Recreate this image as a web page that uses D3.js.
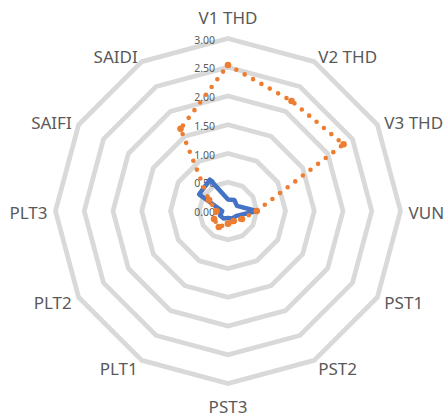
<!DOCTYPE html>
<html><head><meta charset="utf-8">
<script src="https://cdn.jsdelivr.net/npm/d3@7"></script>
<style>html,body{margin:0;padding:0;background:#fff;} svg{display:block;}</style>
</head><body>
<svg id="chart" width="446" height="417"></svg>
<script>
const categories = ["V1 THD","V2 THD","V3 THD","VUN","PST1","PST2","PST3","PLT1","PLT2","PLT3","SAIFI","SAIDI"];
const seriesBlue = [0.20,0.22,0.18,0.50,0.17,0.15,0.12,0.15,0.16,0.10,0.58,0.63];
const seriesOrange = [2.54,2.21,2.32,0.50,0.28,0.20,0.22,0.32,0.28,0.20,0.38,1.65];
const tickValues = [0,0.5,1,1.5,2,2.5,3];
const tickLabels = ["0.00","0.50","1.00","1.50","2.00","2.50","3.00"];

const W = 446, H = 417, cx = 228, cy = 211, R = 172.5;
const svg = d3.select("#chart");
const g = svg.append("g").attr("transform", `translate(${cx},${cy})`);
const rScale = d3.scaleLinear().domain([0, 3]).range([0, R]);
const aScale = d3.scaleLinear().domain([0, categories.length]).range([0, 2 * Math.PI]);
const angles = categories.map((c, i) => aScale(i));

// grid rings
const ringLine = d3.lineRadial().angle(d => d.a).radius(d => d.r).curve(d3.curveLinearClosed);
tickValues.filter(v => v > 0).forEach(v => {
  g.append("path")
    .attr("d", ringLine(angles.map(a => ({a, r: rScale(v)}))))
    .attr("fill", "none").attr("stroke", "#d9d9d9").attr("stroke-width", 4.75)
    .attr("stroke-linejoin", "miter");
});

// tick labels
g.selectAll("text.tick").data(tickValues).enter().append("text")
  .attr("class", "tick")
  .attr("x", -13).attr("y", d => -rScale(d) + 1.5).attr("dy", "0.35em")
  .attr("text-anchor", "end")
  .attr("font-family", "'Noto Sans', sans-serif").attr("font-size", 10.5)
  .attr("fill", "#595959")
  .text((d, i) => tickLabels[i]);

// category labels
g.selectAll("text.cat").data(categories).enter().append("text")
  .attr("class", "cat")
  .each(function(d, i) {
    const a = angles[i], s = Math.sin(a), c = Math.cos(a);
    const px = (R + 8) * s, py = -(R + 8) * c;
    let anchor = "middle", yOff = 2;
    if (s > 0.01) anchor = "start"; else if (s < -0.01) anchor = "end";
    else yOff = c > 0 ? -12 : 16;
    d3.select(this).attr("x", px).attr("y", py + yOff).attr("dy", "0.35em").attr("text-anchor", anchor);
  })
  .attr("font-family", "'Noto Sans', sans-serif").attr("font-size", 17)
  .attr("fill", "#595959")
  .text(d => d);

const seriesLine = d3.lineRadial().angle((d, i) => angles[i]).radius(d => rScale(d)).curve(d3.curveLinearClosed);

// blue series
g.append("path").attr("d", seriesLine(seriesBlue))
  .attr("fill", "none").attr("stroke", "#4472c4").attr("stroke-width", 4.5)
  .attr("stroke-linejoin", "round").attr("stroke-linecap", "round");

// orange series (dotted)
g.append("path").attr("d", seriesLine(seriesOrange))
  .attr("fill", "none").attr("stroke", "#ed7d31").attr("stroke-width", 4.6)
  .attr("stroke-dasharray", "0 9.6").attr("stroke-linecap", "round");
g.selectAll("circle.ov").data(seriesOrange).enter().append("circle")
  .attr("class", "ov")
  .attr("cx", (d, i) => rScale(d) * Math.sin(angles[i]))
  .attr("cy", (d, i) => -rScale(d) * Math.cos(angles[i]))
  .attr("r", 3.3).attr("fill", "#ed7d31");
</script>
</body></html>
